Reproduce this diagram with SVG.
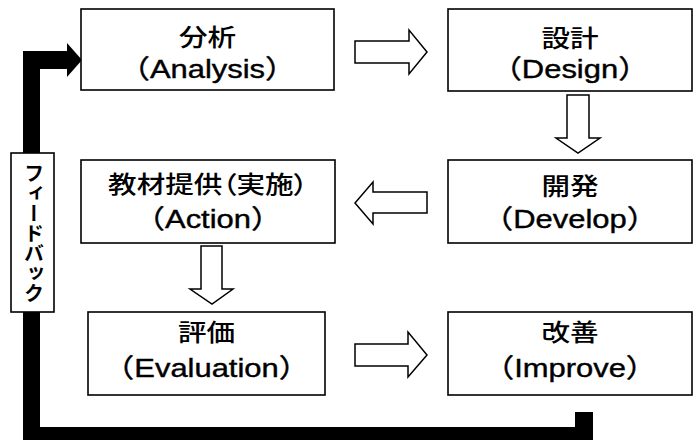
<svg xmlns="http://www.w3.org/2000/svg" width="693" height="442" viewBox="0 0 693 442">
<style>
.box{fill:#fff;stroke:#000;stroke-width:1.6}
.arr{fill:#fff;stroke:#000;stroke-width:1.5;stroke-linejoin:miter}
.t1{font-family:"Noto Sans CJK JP","Liberation Sans",sans-serif;font-size:24px;font-weight:500;text-anchor:middle;fill:#000;font-feature-settings:"palt" 1}
.t2{font-family:"Liberation Sans","Noto Sans CJK JP",sans-serif;font-size:26px;text-anchor:middle;fill:#000;stroke:#000;stroke-width:0.4}
.fb{font-family:"Noto Sans CJK JP",sans-serif;font-size:20px;font-weight:bold;text-anchor:middle;fill:#000;writing-mode:vertical-rl;text-orientation:upright;glyph-orientation-vertical:0}
</style>
<rect width="693" height="442" fill="#fff"/>
<g id="connectors">
<polygon id="feedback-line" points="82,60 67,43 67,51 23,51 23,440 593,440 593,412 575,412 575,427 40,427 40,69 67,69 67,77" fill="#000"/>
<polygon class="arr" points="355,41 409,41 409,30 427,52 409,74 409,63 355,63"/>
<polygon class="arr" points="567,95 589,95 589,138 600,138 578,153 556,138 567,138"/>
<polygon class="arr" points="427,192 373,192 373,182 355,203 373,224 373,213 427,213"/>
<polygon class="arr" points="201,246 222,246 222,289 233,289 212,304 190,289 201,289"/>
<polygon class="arr" points="355,344 408,344 408,332 427,355 408,377 408,366 355,366"/>
</g>
<g id="feedback">
<rect class="box" x="11" y="153" width="43" height="159"/>
<text class="fb" x="34" y="233">フィードバック</text>
</g>
<g id="analysis">
<rect class="box" x="81" y="9" width="253" height="81"/>
<text class="t1" transform="translate(207.5,46) scale(1.19,1)">分析</text>
<text class="t2" transform="translate(207.5,78) scale(1.19,1)">（Analysis）</text>
</g>
<g id="design">
<rect class="box" x="448" y="9" width="244" height="82"/>
<text class="t1" transform="translate(570,47) scale(1.19,1)">設計</text>
<text class="t2" transform="translate(570,78) scale(1.19,1)">（Design）</text>
</g>
<g id="action">
<rect class="box" x="81" y="160" width="254" height="83"/>
<text class="t1" transform="translate(208,193) scale(1.19,1)">教材提供（実施）</text>
<text class="t2" transform="translate(208,228) scale(1.19,1)">（Action）</text>
</g>
<g id="develop">
<rect class="box" x="448" y="160" width="244" height="83"/>
<text class="t1" transform="translate(570,195) scale(1.19,1)">開発</text>
<text class="t2" transform="translate(570,228) scale(1.19,1)">（Develop）</text>
</g>
<g id="evaluation">
<rect class="box" x="88" y="312" width="237" height="83"/>
<text class="t1" transform="translate(206.5,341) scale(1.19,1)">評価</text>
<text class="t2" transform="translate(206.5,377) scale(1.19,1)">（Evaluation）</text>
</g>
<g id="improve">
<rect class="box" x="448" y="312" width="244" height="83"/>
<text class="t1" transform="translate(570,341) scale(1.19,1)">改善</text>
<text class="t2" transform="translate(570,377) scale(1.19,1)">（Improve）</text>
</g>
</svg>
